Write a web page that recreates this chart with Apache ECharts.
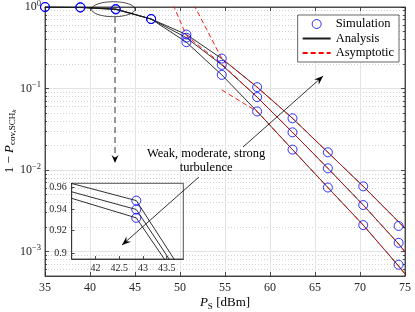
<!DOCTYPE html>
<html><head><meta charset="utf-8">
<script src="https://cdn.jsdelivr.net/npm/echarts@6/dist/echarts.min.js"></script>
<style>html,body{margin:0;padding:0;background:#fff}#c{width:415px;height:312px}</style>
</head><body><div id="c"></div>
<script>
// ---------------- data ----------------
const xSim = [35, 38.93, 42.86, 46.79, 50.71, 54.64, 58.57, 62.5, 66.43, 70.36, 74.29];
const simWeak     = [0.9995, 0.995, 0.9477, 0.713, 0.46, 0.233, 0.104, 0.0431, 0.0165, 0.00631, 0.00206];
const simModerate = [0.9995, 0.988, 0.9394, 0.712, 0.42, 0.195, 0.0785, 0.029, 0.0105, 0.00372, 0.00128];
const simStrong   = [0.9995, 0.985, 0.9317, 0.711, 0.37, 0.147, 0.0523, 0.0178, 0.0061, 0.00211, 0.000689];

const xAna = [35, 38.93, 42.86, 46.79, 50.71, 54.64, 58.57, 62.5, 66.43, 70.36, 74.29, 75];
const anaWeak     = [0.9995, 0.995, 0.9477, 0.713, 0.46, 0.233, 0.104, 0.0431, 0.0165, 0.00631, 0.00231, 0.00193];
const anaModerate = [0.9995, 0.988, 0.9394, 0.712, 0.42, 0.195, 0.0785, 0.029, 0.0105, 0.00372, 0.00124, 0.000995];
const anaStrong   = [0.9995, 0.985, 0.9317, 0.711, 0.37, 0.147, 0.0523, 0.0178, 0.0061, 0.00211, 0.000664, 0.00053];

const asymWeak     = [null, null, null, null, 1.6, 0.233, 0.104, 0.0431, 0.0165, 0.00631, 0.00231, 0.00193];
const asymModerate = [null, null, null, 4.55, 0.445, 0.2, 0.0785, 0.029, 0.0105, 0.00372, 0.00124, 0.000995];
const asymStrong   = [null, null, null, null, null, 0.096, 0.0523, 0.0178, 0.0061, 0.00211, 0.000664, 0.00053];

const yTickExponents = [0, -1, -2, -3];
const insetXTicks = [42, 42.5, 43, 43.5];
const insetYTicks = [0.9, 0.92, 0.94, 0.96];
const legendNames = ['Simulation', 'Analysis', 'Asymptotic'];
const annotationText = 'Weak, moderate, strong\nturbulence';

// ---------------- chart ----------------
const FONT = 'Liberation Serif';
const AX = '#262626';
const L = Math.log10;
const pair = (xs, ys) => xs.map((x, i) => [x, ys[i] == null ? '-' : L(ys[i])]);

const yMin = -3.3, yMax = 0;
const minorVals = [];
for (let e = -4; e <= -1; e++) for (let k = 2; k <= 9; k++) {
  const v = L(k) + e; if (v > yMin && v < yMax) minorVals.push(v);
}
const insetYLog = insetYTicks.map(L);

const chart = echarts.init(document.getElementById('c'));

const tickStyle = { color: AX, width: 0.8 };
const lineAx = { show: true, onZero: false, lineStyle: { color: AX, width: 0.8 } };
const noAxLine = { show: false, onZero: false };

const expFmt = v => '{b|10}{e|' + (v === 0 ? '0' : '\u2212' + (-v)) + '}';

const anaStyle = { color: '#1a1a1a', width: 0.9 };
const asymStyle = { color: '#ff0000', width: 0.9, type: [5, 3] };
const simItem = { color: 'rgba(0,0,0,0)', borderColor: '#0000ff', borderWidth: 1 };
const hiddenSymbol = { color: 'rgba(0,0,0,0)', borderColor: 'rgba(0,0,0,0)', borderWidth: 0, opacity: 0 };

function lineSeries(name, data, style, xi, yi, z) {
  return { name, type: 'line', xAxisIndex: xi, yAxisIndex: yi, data, symbol: 'none',
    lineStyle: style, itemStyle: { color: style.color }, z, silent: true, clip: true, connectNulls: false };
}
function simSeries(name, data, xi, yi) {
  return { name, type: 'scatter', xAxisIndex: xi, yAxisIndex: yi, data, symbol: 'circle',
    symbolSize: 9, itemStyle: simItem, z: 5, silent: true, clip: true };
}

const option = {
  animation: false,
  backgroundColor: '#fff',
  grid: [
    { left: 45, top: 7, width: 360, height: 269, outerBoundsMode: 'none', containLabel: false,
      show: true, borderColor: AX, borderWidth: 0.8, backgroundColor: 'rgba(0,0,0,0)' },
    { left: 71.7, top: 183.3, width: 111.6, height: 75.7, outerBoundsMode: 'none', containLabel: false,
      show: true, borderColor: AX, borderWidth: 0.8, backgroundColor: 'rgba(0,0,0,0)', z: 3 }
  ],
  legend: {
    data: [
      { name: legendNames[0], icon: 'circle', itemStyle: simItem },
      { name: legendNames[1], itemStyle: hiddenSymbol },
      { name: legendNames[2], itemStyle: hiddenSymbol }
    ],
    orient: 'vertical', right: 16, top: 15, itemWidth: 28, itemHeight: 9, itemGap: 0.5,
    padding: [2, 5, 2, 4], backgroundColor: '#fff', borderColor: AX, borderWidth: 0.7, borderRadius: 0,
    selectedMode: false,
    textStyle: { fontFamily: FONT, fontSize: 12.5, color: '#000', lineHeight: 14 }
  },
  xAxis: [
    { gridIndex: 0, type: 'value', min: 35, max: 75, interval: 5, position: 'bottom',
      axisLine: lineAx, axisTick: { inside: true, length: 4, lineStyle: tickStyle },
      axisLabel: { margin: 6, color: AX, fontFamily: FONT, fontSize: 12 },
      splitLine: { show: true, lineStyle: { color: '#e3e3e3', width: 1 } },
      name: '{p|P}{s|S}{t| [dBm]}', nameLocation: 'middle', nameGap: 19, nameMoveOverlap: false,
      nameTextStyle: { color: '#000', fontFamily: FONT, rich: {
        p: { fontFamily: FONT, fontSize: 13, fontStyle: 'italic', color: '#000' },
        s: { fontFamily: FONT, fontSize: 9, color: '#000', padding: [7, 0, 0, 0] },
        t: { fontFamily: FONT, fontSize: 13, color: '#000' } } } },
    { gridIndex: 0, type: 'value', min: 35, max: 75, interval: 5, position: 'top',
      axisLine: lineAx, axisTick: { inside: true, length: 4, lineStyle: tickStyle },
      axisLabel: { show: false }, splitLine: { show: false } },
    { gridIndex: 1, type: 'value', min: 41.5, max: 43.85, position: 'bottom',
      axisLine: lineAx, axisTick: { inside: true, length: 3, lineStyle: tickStyle, customValues: insetXTicks },
      axisLabel: { customValues: insetXTicks, margin: 4, color: AX, fontFamily: FONT, fontSize: 10, formatter: v => String(v) },
      splitLine: { show: false } }
  ],
  yAxis: [
    { gridIndex: 0, type: 'value', min: yMin, max: yMax, position: 'left',
      axisLine: lineAx,
      axisTick: { inside: true, length: 4, lineStyle: tickStyle, customValues: yTickExponents },
      axisLabel: { customValues: yTickExponents, margin: 4, formatter: expFmt, rich: {
        b: { fontFamily: FONT, fontSize: 12, color: AX },
        e: { fontFamily: FONT, fontSize: 8.5, color: AX, padding: [0, 0, 7, 0] } } },
      splitLine: { show: true, lineStyle: { color: '#e3e3e3', width: 1 } },
      name: '{n|1 \u2212 }{p|P}{s|cov,SCH}{k|k}', nameLocation: 'middle', nameRotate: 90, nameGap: 27,
      nameMoveOverlap: false,
      nameTextStyle: { color: '#000', fontFamily: FONT, rich: {
        n: { fontFamily: FONT, fontSize: 13, color: '#000' },
        p: { fontFamily: FONT, fontSize: 13, fontStyle: 'italic', color: '#000' },
        s: { fontFamily: FONT, fontSize: 9, color: '#000', padding: [6, 0, 0, 0] },
        k: { fontFamily: FONT, fontSize: 7, fontStyle: 'italic', color: '#000', padding: [9, 0, 0, 0] } } } },
    { gridIndex: 0, type: 'value', min: yMin, max: yMax, position: 'left',
      axisLine: noAxLine,
      axisTick: { inside: true, length: 2, lineStyle: tickStyle, customValues: minorVals },
      axisLabel: { show: false },
      splitLine: { show: true, lineStyle: { color: '#c4c4c4', width: 0.8, type: [1, 2] } } },
    { gridIndex: 0, type: 'value', min: yMin, max: yMax, position: 'right',
      axisLine: lineAx,
      axisTick: { inside: true, length: 4, lineStyle: tickStyle, customValues: yTickExponents },
      axisLabel: { show: false }, splitLine: { show: false } },
    { gridIndex: 0, type: 'value', min: yMin, max: yMax, position: 'right',
      axisLine: noAxLine,
      axisTick: { inside: true, length: 2, lineStyle: tickStyle, customValues: minorVals },
      axisLabel: { show: false }, splitLine: { show: false } },
    { gridIndex: 1, type: 'value', min: L(0.8947), max: L(0.964), position: 'left',
      axisLine: lineAx,
      axisTick: { inside: true, length: 3, lineStyle: tickStyle, customValues: insetYLog },
      axisLabel: { customValues: insetYLog, margin: 5, color: AX, fontFamily: FONT, fontSize: 10,
        formatter: v => String(Math.round(Math.pow(10, v) * 100) / 100) },
      splitLine: { show: false } }
  ],
  series: [
    lineSeries('Analysis', pair(xAna, anaWeak), anaStyle, 0, 0, 2),
    lineSeries('Analysis', pair(xAna, anaModerate), anaStyle, 0, 0, 2),
    lineSeries('Analysis', pair(xAna, anaStrong), anaStyle, 0, 0, 2),
    lineSeries('Asymptotic', pair(xAna, asymWeak), asymStyle, 0, 0, 3),
    lineSeries('Asymptotic', pair(xAna, asymModerate), asymStyle, 0, 0, 3),
    lineSeries('Asymptotic', pair(xAna, asymStrong), asymStyle, 0, 0, 3),
    simSeries('Simulation', pair(xSim, simWeak), 0, 0),
    simSeries('Simulation', pair(xSim, simModerate), 0, 0),
    simSeries('Simulation', pair(xSim, simStrong), 0, 0),
    lineSeries('inset-a1', pair(xAna, anaWeak), anaStyle, 2, 4, 2),
    lineSeries('inset-a2', pair(xAna, anaModerate), anaStyle, 2, 4, 2),
    lineSeries('inset-a3', pair(xAna, anaStrong), anaStyle, 2, 4, 2),
    simSeries('inset-s1', pair(xSim, simWeak), 2, 4),
    simSeries('inset-s2', pair(xSim, simModerate), 2, 4),
    simSeries('inset-s3', pair(xSim, simStrong), 2, 4)
  ]
};
chart.setOption(option);

// ---------------- annotations (anchored in data units of the main axes) ----------------
const ann = {
  ellipseCenter: [42.59, -0.027], ellipseRx: 2.41, ellipseRy: 0.092,
  dashFrom: [42.78, -0.123], dashTo: [42.78, -1.914],
  textAt: [52.9, -1.89],
  arrow1From: [57.0, -1.718], arrow1To: [65.9, -0.847],
  arrow2From: [52.1, -2.086], arrow2To: [43.56, -2.92]
};
const P = c => chart.convertToPixel({ gridIndex: 0 }, c);
function head(a, b, len, half) {
  const dx = b[0] - a[0], dy = b[1] - a[1], d = Math.hypot(dx, dy), ux = dx / d, uy = dy / d, px = -uy, py = ux;
  return [[b[0], b[1]],
    [b[0] - ux * len + px * half, b[1] - uy * len + py * half],
    [b[0] - ux * len * 0.65, b[1] - uy * len * 0.65],
    [b[0] - ux * len - px * half, b[1] - uy * len - py * half]];
}
const ec = P(ann.ellipseCenter);
const ex = P([ann.ellipseCenter[0] + ann.ellipseRx, ann.ellipseCenter[1]]);
const ey = P([ann.ellipseCenter[0], ann.ellipseCenter[1] + ann.ellipseRy]);
const d1 = P(ann.dashFrom), d2 = P(ann.dashTo);
const a1 = P(ann.arrow1From), a2 = P(ann.arrow1To);
const b1 = P(ann.arrow2From), b2 = P(ann.arrow2To);
const tp = P(ann.textAt);
const blk = { stroke: '#000', lineWidth: 0.8 };
chart.setOption({ graphic: [
  { type: 'ellipse', z: 100, silent: true, shape: { cx: ec[0], cy: ec[1], rx: Math.abs(ex[0] - ec[0]), ry: Math.abs(ey[1] - ec[1]) }, style: { fill: 'none', stroke: '#000', lineWidth: 0.7 } },
  { type: 'line', z: 100, silent: true, shape: { x1: d1[0], y1: d1[1], x2: d2[0], y2: d2[1] - 4 }, style: { stroke: '#000', lineWidth: 0.8, lineDash: [6, 4] } },
  { type: 'polygon', z: 100, silent: true, shape: { points: head(d1, d2, 8, 3.5) }, style: { fill: '#000' } },
  { type: 'line', z: 100, silent: true, shape: { x1: a1[0], y1: a1[1], x2: a2[0], y2: a2[1] }, style: blk },
  { type: 'polygon', z: 100, silent: true, shape: { points: head(a1, a2, 9, 3.5) }, style: { fill: '#000' } },
  { type: 'line', z: 100, silent: true, shape: { x1: b1[0], y1: b1[1], x2: b2[0], y2: b2[1] }, style: blk },
  { type: 'polygon', z: 100, silent: true, shape: { points: head(b1, b2, 9, 3.5) }, style: { fill: '#000' } },
  { type: 'text', z: 100, silent: true, x: tp[0], y: tp[1], style: { text: annotationText, fontFamily: FONT, fontSize: 12.5, fill: '#000', align: 'center', verticalAlign: 'middle', lineHeight: 14 } }
] });
</script>
</body></html>
